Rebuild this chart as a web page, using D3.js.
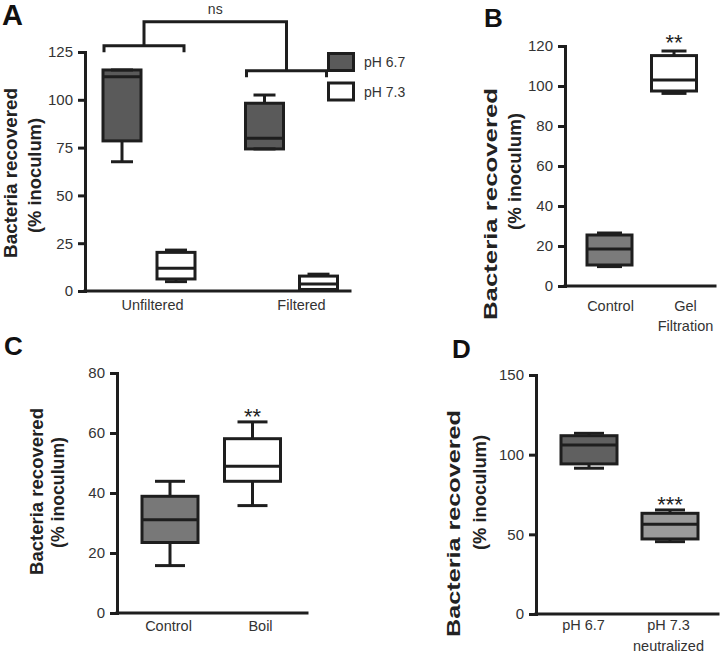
<!DOCTYPE html>
<html>
<head>
<meta charset="utf-8">
<script src="https://cdn.jsdelivr.net/npm/d3@7"></script>
<style>
  body { margin: 0; background: #fff; }
  svg text { font-family: "Liberation Sans", Arial, sans-serif; }
</style>
</head>
<body>
<svg id="fig" width="720" height="653"></svg>
<script>
// every box is [min, q1, median, q3, max]

// panel A
const groupsA = ["Unfiltered", "Filtered"];
const seriesA = ["pH 6.7", "pH 7.3"];
const statsA = [
  [[67.6, 78.5, 112.1, 115.6, 115.6], [4.9, 6.3, 11.9, 20.2, 21.4]],
  [[74.3, 74.3, 79.9, 98.2, 102.5], [0.3, 0.8, 3.7, 7.8, 8.8]]
];
const ticksA = [0, 25, 50, 75, 100, 125];
const bracketLevelsA = [128.3, 115.2]; // one bracket per group
const bracketTopA = 140.8;
const sigTopA = "ns";

// panel B
const groupsB = ["Control", "Gel\nFiltration"];
const statsB = [[9.7, 10.5, 18.5, 25.5, 26.5], [96.3, 97.5, 103, 115.2, 117.5]];
const ticksB = [0, 20, 40, 60, 80, 100, 120];
const sigB = ["", "**"];

// panel C
const groupsC = ["Control", "Boil"];
const statsC = [[15.8, 23.5, 31.1, 38.9, 43.9], [35.8, 43.9, 48.9, 58.1, 63.7]];
const ticksC = [0, 20, 40, 60, 80];
const sigC = ["", "**"];

// panel D
const groupsD = ["pH 6.7", "pH 7.3\nneutralized"];
const statsD = [[91.5, 94.2, 106, 111.9, 113.4], [45.4, 47.1, 56.3, 63.2, 65.3]];
const ticksD = [0, 50, 100, 150];
const sigD = ["", "***"];

const yTitle = ["Bacteria recovered", "(% inoculum)"];

const ink = "#1e1e1e";
const svg = d3.select("#fig");

function drawPanel(p) {
  const g = svg.append("g");
  const y = d3.scaleLinear().domain([0, p.max]).range([p.yBot, p.yTop]);
  const xBox = d3.scalePoint().domain(p.groups).range(p.boxC);
  const xLab = d3.scalePoint().domain(p.groups).range(p.labC);

  // y axis
  const ya = g.append("g")
    .attr("transform", "translate(" + p.x0 + ",0)")
    .call(d3.axisLeft(y).tickValues(p.ticks).tickSize(7).tickSizeOuter(0).tickPadding(5));
  ya.select(".domain").attr("stroke", ink).attr("stroke-width", 3).attr("stroke-linecap", "square");
  ya.selectAll(".tick line").attr("stroke", ink).attr("stroke-width", 3);
  ya.selectAll(".tick text").attr("font-size", 15).attr("fill", "#333");

  // x baseline
  g.append("line")
    .attr("x1", p.x0).attr("x2", p.x1)
    .attr("y1", y(0)).attr("y2", y(0))
    .attr("stroke", ink).attr("stroke-width", 3).attr("stroke-linecap", "square");

  // x labels
  const xa = g.append("g")
    .attr("transform", "translate(0," + y(0) + ")")
    .call(d3.axisBottom(xLab).tickSize(0));
  xa.select(".domain").remove();
  xa.selectAll(".tick text").each(function(d) {
    const t = d3.select(this);
    t.text(null).attr("y", p.labY - y(0)).attr("dy", null)
      .attr("font-size", 14.5).attr("fill", "#333");
    d.split("\n").forEach((s, i) => {
      t.append("tspan").attr("x", 0).attr("dy", i ? p.lineGap : 0).text(s);
    });
  });

  // boxes
  const items = p.items(xBox);
  const bx = g.selectAll(".box").data(items).join("g").attr("class", "box");
  const line = (sel, x1, x2, y1, y2) => sel.append("line")
    .attr("x1", x1).attr("x2", x2).attr("y1", y1).attr("y2", y2)
    .attr("stroke", ink).attr("stroke-width", 3);

  bx.each(function(d) {
    const b = d3.select(this);
    const s = d.s;
    line(b, d.cx, d.cx, y(s[3]), y(s[4]));
    line(b, d.cx, d.cx, y(s[0]), y(s[1]));
    b.append("rect")
      .attr("x", d.cx - p.boxW / 2).attr("y", y(s[3]))
      .attr("width", p.boxW).attr("height", Math.max(0, y(s[1]) - y(s[3])))
      .attr("fill", d.fill).attr("stroke", ink).attr("stroke-width", 3);
    line(b, d.cx - p.boxW / 2, d.cx + p.boxW / 2, y(s[2]), y(s[2]));
    line(b, d.cx - p.capW / 2, d.cx + p.capW / 2, y(s[4]), y(s[4]));
    line(b, d.cx - p.capW / 2, d.cx + p.capW / 2, y(s[0]), y(s[0]));
    if (d.sig) {
      b.append("text").attr("x", d.cx).attr("y", y(s[4]) - p.sigGap)
        .attr("text-anchor", "middle").attr("font-size", 22).attr("fill", "#222")
        .text(d.sig);
    }
  });

  // y title, two rotated lines
  yTitle.forEach((s, i) => {
    const tl = p.title[i];
    g.append("text")
      .attr("transform", "translate(" + tl[0] + "," + tl[1] + ") rotate(-90)")
      .attr("text-anchor", "middle")
      .attr("font-size", 18.5).attr("font-weight", "bold").attr("fill", "#222")
      .attr("textLength", tl[2]).attr("lengthAdjust", "spacingAndGlyphs")
      .text(s);
  });

  // panel letter
  g.append("text").attr("x", p.letter[0]).attr("y", p.letter[1])
    .attr("font-size", p.letterSize).attr("font-weight", "bold").attr("fill", "#111")
    .text(p.name);

  return { g, y, xBox };
}

const fillsA = ["#5a5a5a", "#ffffff"];
const xSubA = d3.scalePoint().domain(seriesA).range([-27, 27]);

const A = drawPanel({
  name: "A", letter: [2, 25], letterSize: 29,
  groups: groupsA, ticks: ticksA, max: 125,
  x0: 85, x1: 350, yTop: 52, yBot: 291,
  boxC: [149, 291.5], labC: [152, 301], labY: 310, lineGap: 20,
  boxW: 38, capW: 22, sigGap: 12,
  title: [[17, 173, 170], [41, 175.5, 115]],
  items: xb => groupsA.flatMap((gr, gi) => seriesA.map((se, si) => ({
    cx: xb(gr) + xSubA(se), s: statsA[gi][si], fill: fillsA[si], sig: ""
  })))
});

// brackets and ns over panel A
{
  const y = A.y, xb = A.xBox;
  const drop = 3.4, half = 40, shift = -5;
  const mids = [];
  groupsA.forEach((gr, gi) => {
    const c = xb(gr) + shift, lv = bracketLevelsA[gi];
    mids.push([c, y(lv)]);
    A.g.append("path")
      .attr("d", "M" + (c - half) + "," + y(lv - drop) + "V" + y(lv) + "H" + (c + half) + "V" + y(lv - drop))
      .attr("fill", "none").attr("stroke", ink).attr("stroke-width", 3);
  });
  A.g.append("path")
    .attr("d", "M" + mids[0][0] + "," + mids[0][1] + "V" + y(bracketTopA) + "H" + mids[1][0] + "V" + mids[1][1])
    .attr("fill", "none").attr("stroke", ink).attr("stroke-width", 3);
  A.g.append("text").attr("x", (mids[0][0] + mids[1][0]) / 2).attr("y", 13.5)
    .attr("text-anchor", "middle").attr("font-size", 14).attr("fill", "#333").text(sigTopA);

  // legend
  const lg = A.g.append("g");
  seriesA.forEach((se, i) => {
    lg.append("rect").attr("x", 328.5).attr("y", 53.5 + i * 29.5)
      .attr("width", 25).attr("height", 17)
      .attr("fill", fillsA[i]).attr("stroke", ink).attr("stroke-width", 3);
    lg.append("text").attr("x", 364).attr("y", 67 + i * 29.5)
      .attr("font-size", 14).attr("fill", "#333").text(se);
  });
}

drawPanel({
  name: "B", letter: [484, 27], letterSize: 26,
  groups: groupsB, ticks: ticksB, max: 120,
  x0: 565, x1: 715, yTop: 46, yBot: 286,
  boxC: [609.5, 674], labC: [610, 685], labY: 311, lineGap: 20,
  boxW: 45, capW: 25, sigGap: 1,
  title: [[497, 204, 232], [521, 171.5, 117]],
  items: xb => groupsB.map((gr, i) => ({ cx: xb(gr), s: statsB[i], fill: ["#7b7b7b", "#ffffff"][i], sig: sigB[i] }))
});

drawPanel({
  name: "C", letter: [4, 355], letterSize: 26,
  groups: groupsC, ticks: ticksC, max: 80,
  x0: 117, x1: 307, yTop: 373, yBot: 613,
  boxC: [170, 252.5], labC: [168, 260], labY: 631, lineGap: 20,
  boxW: 56, capW: 30, sigGap: -2,
  title: [[43, 491.5, 167], [64, 492.5, 111]],
  items: xb => groupsC.map((gr, i) => ({ cx: xb(gr), s: statsC[i], fill: ["#787878", "#ffffff"][i], sig: sigC[i] }))
});

drawPanel({
  name: "D", letter: [452, 358], letterSize: 26,
  groups: groupsD, ticks: ticksD, max: 150,
  x0: 536, x1: 718, yTop: 375, yBot: 614,
  boxC: [589, 670], labC: [583, 668], labY: 630, lineGap: 21,
  boxW: 56, capW: 30, sigGap: -2,
  title: [[460, 523.5, 227], [486, 492.5, 115]],
  items: xb => groupsD.map((gr, i) => ({ cx: xb(gr), s: statsD[i], fill: ["#606060", "#9b9b9b"][i], sig: sigD[i] }))
});
</script>
</body>
</html>
